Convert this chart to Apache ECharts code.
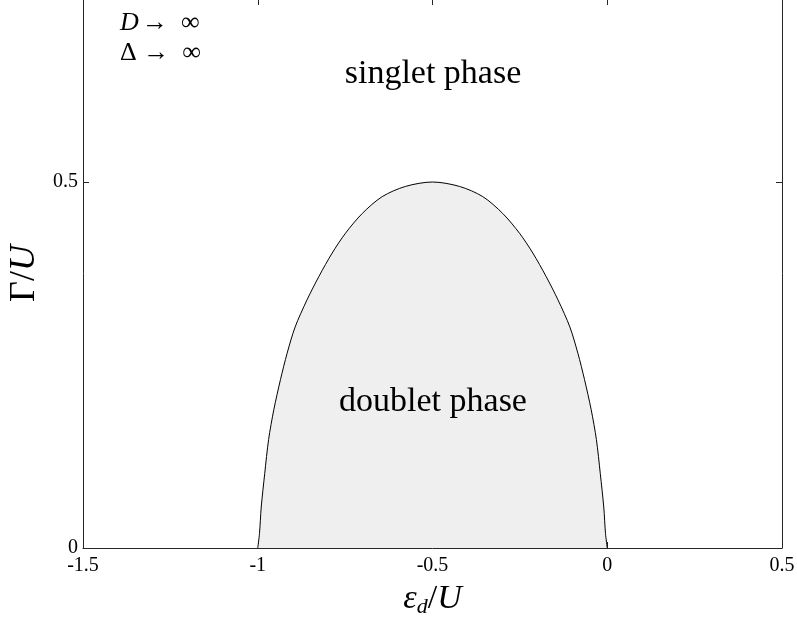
<!DOCTYPE html>
<html>
<head>
<meta charset="utf-8">
<script src="https://cdn.jsdelivr.net/npm/echarts@6/dist/echarts.min.js"></script>
<style>
  html, body { margin: 0; padding: 0; background: #fff; }
  #chart { width: 797px; height: 622px; }
</style>
</head>
<body>
<div id="chart"></div>
<script>
// Phase boundary between the singlet and doublet ground states (ε_d/U, Γ/U)
const epsilon = [-1.0, -0.995, -0.99, -0.98, -0.969, -0.954, -0.935, -0.916, -0.893, -0.859, -0.825, -0.787, -0.749, -0.701, -0.644, -0.577, -0.5,
                 -0.423, -0.356, -0.299, -0.251, -0.213, -0.175, -0.141, -0.107, -0.084, -0.065, -0.046, -0.031, -0.02, -0.01, -0.005, 0.0];
const gamma   = [0.0, 0.020, 0.056, 0.102, 0.148, 0.189, 0.230, 0.266, 0.302, 0.339, 0.371, 0.403, 0.430, 0.457, 0.480, 0.494, 0.5,
                 0.494, 0.480, 0.457, 0.430, 0.403, 0.371, 0.339, 0.302, 0.266, 0.230, 0.189, 0.148, 0.102, 0.056, 0.020, 0.0];

const xTicks = [-1.5, -1, -0.5, 0, 0.5];
const yTicks = [0, 0.5];

const serif = '"Liberation Serif", "DejaVu Serif", serif';
const axisColor = '#262626';

const chart = echarts.init(document.getElementById('chart'), null, { renderer: 'canvas' });

const boundary = epsilon.map((e, i) => [e, gamma[i]]);

const fmt = v => {
  const hit = xTicks.concat(yTicks).find(t => Math.abs(t - v) < 1e-9);
  return hit === undefined ? '' : String(hit);
};

const tickStyle = { show: true, inside: true, length: 6, lineStyle: { color: axisColor, width: 1 } };

chart.setOption({
  animation: false,
  backgroundColor: '#ffffff',
  grid: { left: 83, right: 15, top: -1, bottom: 74, containLabel: false, outerBoundsMode: 'none' },
  xAxis: [
    {
      type: 'value', position: 'bottom',
      min: xTicks[0], max: xTicks[xTicks.length - 1], interval: 0.5,
      axisLine: { show: true, onZero: false, lineStyle: { color: axisColor, width: 1 } },
      axisTick: tickStyle,
      axisLabel: { color: '#000', fontFamily: serif, fontSize: 20, margin: 8, formatter: fmt },
      splitLine: { show: false },
      name: '{i|ε}{s|d}{n|/}{i|U}',
      nameLocation: 'middle', nameGap: 32,
      nameTextStyle: {
        rich: {
          i: { fontFamily: serif, fontStyle: 'italic', fontSize: 34, color: '#000' },
          n: { fontFamily: serif, fontSize: 34, color: '#000' },
          s: { fontFamily: serif, fontStyle: 'italic', fontSize: 22, color: '#000', verticalAlign: 'bottom', padding: [16, 0, 0, 0] }
        }
      }
    },
    {
      type: 'value', position: 'top',
      min: xTicks[0], max: xTicks[xTicks.length - 1], interval: 0.5,
      axisLine: { show: false, onZero: false },
      axisTick: tickStyle,
      axisLabel: { show: false },
      splitLine: { show: false }
    }
  ],
  yAxis: [
    {
      type: 'value', position: 'left',
      min: 0, max: 0.75, interval: 0.5,
      axisLine: { show: true, onZero: false, lineStyle: { color: axisColor, width: 1 } },
      axisTick: tickStyle,
      axisLabel: { color: '#000', fontFamily: serif, fontSize: 20, margin: 5, showMaxLabel: false, formatter: fmt },
      splitLine: { show: false },
      name: '{n|Γ/}{i|U}',
      nameLocation: 'middle', nameGap: 40, nameRotate: 90,
      nameTextStyle: {
        rich: {
          i: { fontFamily: serif, fontStyle: 'italic', fontSize: 36, color: '#000' },
          n: { fontFamily: serif, fontSize: 36, color: '#000' }
        }
      }
    },
    {
      type: 'value', position: 'right',
      min: 0, max: 0.75, interval: 0.5,
      axisLine: { show: true, onZero: false, lineStyle: { color: axisColor, width: 1 } },
      axisTick: tickStyle,
      axisLabel: { show: false },
      splitLine: { show: false }
    }
  ],
  series: [
    {
      type: 'line',
      xAxisIndex: 0, yAxisIndex: 0,
      data: boundary,
      smooth: 0.3,
      showSymbol: false,
      lineStyle: { color: '#000', width: 1 },
      areaStyle: { color: '#efefef', opacity: 1, origin: 'start' },
      z: 1
    }
  ],
  graphic: [
    {
      type: 'text', left: 120, top: 10, z: 100,
      style: { text: '{i|D} {n|→  ∞}', rich: {
        i: { fontFamily: serif, fontStyle: 'italic', fontSize: 26, fill: '#000' },
        n: { fontFamily: serif, fontSize: 26, fill: '#000' } } }
    },
    {
      type: 'text', left: 120, top: 40, z: 100,
      style: { text: 'Δ →  ∞', fontFamily: serif, fontSize: 26, fill: '#000' }
    },
    {
      type: 'text', x: 433, y: 74, z: 100,
      style: { text: 'singlet phase', fontFamily: serif, fontSize: 34, fill: '#000', align: 'center', verticalAlign: 'middle' }
    },
    {
      type: 'text', x: 433, y: 402, z: 100,
      style: { text: 'doublet phase', fontFamily: serif, fontSize: 34, fill: '#000', align: 'center', verticalAlign: 'middle' }
    }
  ]
});
</script>
</body>
</html>
